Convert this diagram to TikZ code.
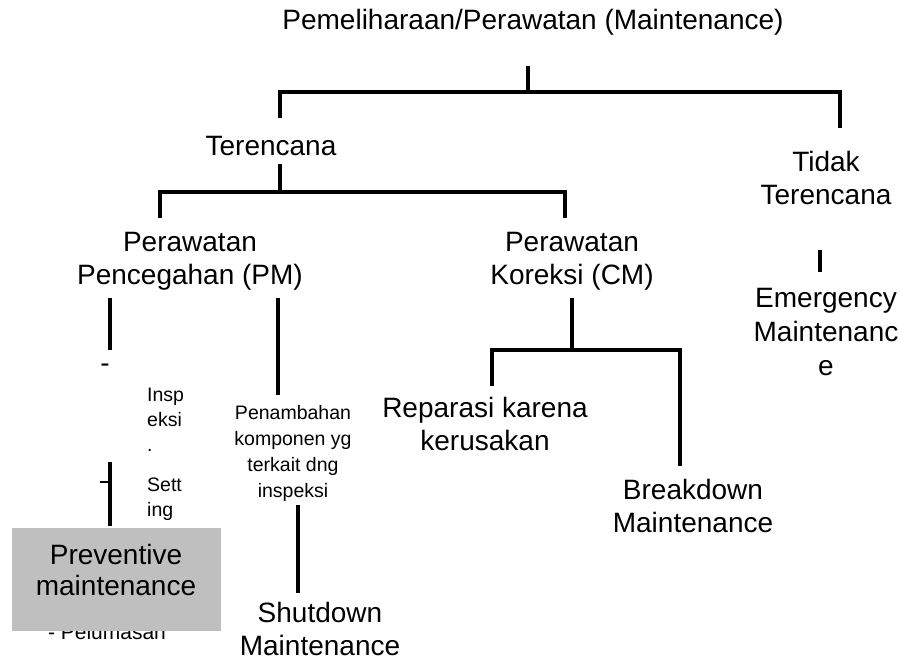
\documentclass[tikz,border=0pt]{standalone}
\usepackage{fontspec}
\setmainfont{Liberation Sans}
\begin{document}
\begin{tikzpicture}[x=1pt,y=-1pt,
  lbl/.style={font=\fontsize{28}{33}\selectfont, align=center, inner sep=0pt},
  small/.style={font=\fontsize{19.5}{26}\selectfont, align=center, inner sep=0pt},
  tree/.style={line width=4.5pt, line join=miter},
  pmbox/.style={fill=gray!50!white, draw=none, minimum width=209pt, minimum height=103pt, inner sep=0pt}]
\useasboundingbox (0,0) rectangle (900,661);

% text nodes
\node[lbl] (root) at (533,22) {Pemeliharaan/Perawatan (Maintenance)};
\node[lbl] (plan) at (271,146) {Terencana};
\node[lbl] (unplan) at (826,178) {Tidak\\Terencana};
\node[lbl] (pm) at (190,261) {Perawatan\\Pencegahan (PM)};
\node[lbl] (cm) at (572,261) {Perawatan\\Koreksi (CM)};
\node[lbl, font=\fontsize{28}{34}\selectfont] (em) at (826,332) {Emergency\\Maintenanc\\e};
\node[lbl] (dash) at (105,368) {-};
\node[small, align=left, anchor=west, font=\fontsize{19.5}{25}\selectfont] (insp) at (147,420) {Insp\\eksi\\.};
\node[small, align=left, anchor=west, font=\fontsize{19.5}{25}\selectfont] (sett) at (147,499) {Sett\\ing};
\node[small] (tambah) at (293,453) {Penambahan\\komponen yg\\terkait dng\\inspeksi};
\node[lbl] (shut) at (320,629) {Shutdown\\Maintenance};
\node[lbl] (rep) at (485,424) {Reparasi karena\\kerusakan};
\node[lbl] (brk) at (693,506) {Breakdown\\Maintenance};
\node[small, font=\fontsize{21}{26}\selectfont] (pel) at (107,632) {- Pelumasan};

% grey panel over the lower list
\node[pmbox] (prev) at (116.5,579.5) {};
\node[lbl, font=\fontsize{28}{31}\selectfont] (prevtxt) at (116,570) {Preventive\\maintenance};

% connector end points
\coordinate (r0) at (528,66);
\coordinate (r1) at (528,92);
\coordinate (rl) at (280,118);
\coordinate (rr) at (840,128);
\coordinate (p0) at (280,164);
\coordinate (p1) at (280,192);
\coordinate (pl) at (160,218);
\coordinate (pr) at (565,218);
\coordinate (e0) at (820,250);
\coordinate (e1) at (820,272);
\coordinate (a0) at (110,298);
\coordinate (a1) at (110,350);
\coordinate (b0) at (110,462);
\coordinate (b1) at (110,526);
\coordinate (t0) at (100,482);
\coordinate (t1) at (110,482);
\coordinate (c0) at (278,298);
\coordinate (c1) at (278,395);
\coordinate (d0) at (298,505);
\coordinate (d1) at (298,593);
\coordinate (k0) at (572,298);
\coordinate (k1) at (572,350);
\coordinate (kl) at (492,386);
\coordinate (kr) at (680,466);

% tree connectors
\draw[tree] (r0) -- (r1);
\draw[tree] (rl) |- (r1) -| (rr);
\draw[tree] (p0) -- (p1);
\draw[tree] (pl) |- (p1) -| (pr);
\draw[tree] (e0) -- (e1);
\draw[tree] (a0) -- (a1);
\draw[tree] (b0) -- (b1);
\draw[line width=2.5pt] (t0) -- (t1);
\draw[tree] (c0) -- (c1);
\draw[tree] (d0) -- (d1);
\draw[tree] (k0) -- (k1);
\draw[tree] (kl) |- (k1) -| (kr);
\end{tikzpicture}
\end{document}
